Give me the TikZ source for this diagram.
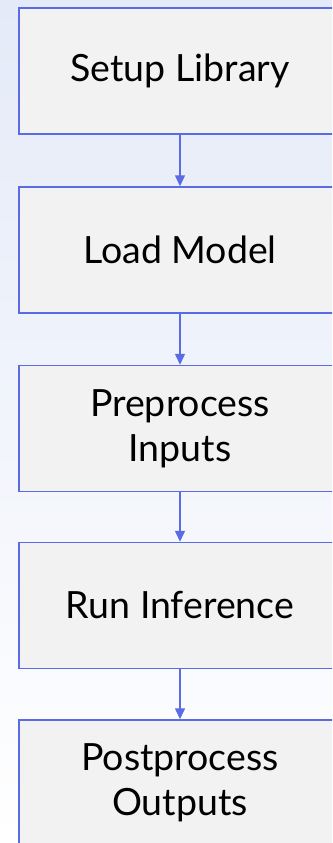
\documentclass[tikz,border=0pt]{standalone}
\usepackage{fontspec}
\setmainfont{Lato}
\usetikzlibrary{arrows.meta}
\definecolor{edgeblue}{HTML}{5B6BE6}
\definecolor{boxfill}{HTML}{F2F2F2}
\definecolor{bgtop}{HTML}{E4EAF8}
\definecolor{bgmid}{HTML}{E8F2F5}
\tikzset{
  stepbox/.style={draw=edgeblue, line width=1.5pt, fill=boxfill, rectangle,
    minimum width=322pt, minimum height=126pt, inner sep=0pt,
    align=center, font=\fontsize{37.5}{45}\selectfont, text=black},
  flowarrow/.style={draw=edgeblue, line width=1.5pt,
    -{Triangle[length=11pt,width=10pt]}}
}
\begin{document}
\begin{tikzpicture}[x=1pt,y=-1pt]
\useasboundingbox (0,0) rectangle (332,843);
\shade[top color=bgtop, middle color=bgmid, bottom color=white] (0,0) rectangle (332,843);
\begin{scope}
\clip (0,0) rectangle (332,843);
\node[stepbox] (b1) at (180,71) {Setup Library};
\node[stepbox] (b2) at (180,250) {Load Model};
\node[stepbox] (b3) at (180,428.5) {Preprocess\\Inputs};
\node[stepbox] (b4) at (180,605.5) {Run Inference};
\node[stepbox] (b5) at (180,783) {Postprocess\\Outputs};
\draw[flowarrow] (b1) -- (b2);
\draw[flowarrow] (b2) -- (b3);
\draw[flowarrow] (b3) -- (b4);
\draw[flowarrow] (b4) -- (b5);
\end{scope}
\end{tikzpicture}
\end{document}
